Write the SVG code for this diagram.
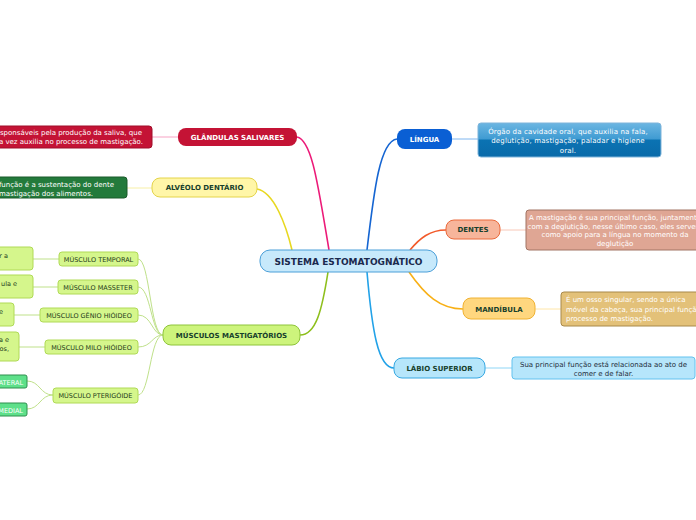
<svg xmlns="http://www.w3.org/2000/svg" width="696" height="520" viewBox="0 0 696 520">
<defs>
<linearGradient id="gLing" x1="0" y1="0" x2="0" y2="1">
<stop offset="0" stop-color="#6cb6e2"/>
<stop offset="0.47" stop-color="#3f9bd2"/>
<stop offset="0.5" stop-color="#0b73b3"/>
<stop offset="1" stop-color="#0a6aa9"/>
</linearGradient>
<style>
text{font-family:"DejaVu Sans","Liberation Sans",sans-serif;}
.lbl{font-size:7px;font-weight:bold;text-anchor:middle;fill:#17402c;}
.sub{font-size:6.5px;text-anchor:middle;fill:#1d3a1a;}
.desc{font-size:7px;fill:#ffffff;}
.dk{fill:#1e2d3a;}
.c{text-anchor:middle;}
.e{text-anchor:end;}
.main{fill:none;stroke-width:1.6;}
.thin{fill:none;stroke-width:1;}
.lime{fill:#d5f68c;stroke:#b0da56;stroke-width:1;}
</style>
</defs>
<rect width="696" height="520" fill="#ffffff"/>

<g id="connectors">
<path class="main" stroke="#ec1a78" d="M297 137 C312 140 318 185 329 250"/>
<path class="main" stroke="#e8d820" d="M257 189 C274 192 286 225 292 250"/>
<path class="main" stroke="#1565d2" d="M367 250 C374 190 380 141 397 139"/>
<path class="main" stroke="#f25a2a" d="M410 250 C420 238 430 230 446 230"/>
<path class="main" stroke="#f8b016" d="M409 272 C425 295 440 309 463 309"/>
<path class="main" stroke="#22a2e8" d="M367 272 C372 330 378 368 394 368"/>
<path class="main" stroke="#8ebf1c" d="M328 272 C322 310 316 335 300 335"/>

<path class="thin" stroke="#f7a3c4" d="M152 137 L178 137"/>
<path class="thin" stroke="#f7efa6" d="M126 188 L152 188"/>
<path class="thin" stroke="#7fb6ef" d="M452 139 L478 139"/>
<path class="thin" stroke="#f8c8b8" d="M500 230 L526 230"/>
<path class="thin" stroke="#ffe6a8" d="M535 309 L561 309"/>
<path class="thin" stroke="#8fd6f6" d="M485 368 L512 368"/>

<g stroke="#bfe18a" class="thin">
<path d="M163 335 C150 335 150 259 138 259"/>
<path d="M163 335 C151 335 151 287 138 287"/>
<path d="M163 335 C152 335 152 315 138 315"/>
<path d="M163 335 C152 335 152 347 138 347"/>
<path d="M163 335 C150 335 150 395 138 395"/>
<path d="M59 259 L33 259"/>
<path d="M58 287 L33 287"/>
<path d="M40 315 L14 315"/>
<path d="M45 347 L19 347"/>
<path d="M53 395 C40 395 40 381 27 381"/>
<path d="M53 395 C40 395 40 409 27 409"/>
</g>
</g>

<g id="central">
<rect x="260" y="250" width="177" height="22" rx="10" fill="#c7e9fb" stroke="#4b9fd8" stroke-width="1"/>
<text x="348.5" y="264.5" font-size="9" font-weight="bold" text-anchor="middle" fill="#1b2a4e">SISTEMA ESTOMATOGNÁTICO</text>
</g>

<g id="glandulas">
<rect x="178" y="128" width="119" height="18" rx="8" fill="#c41335"/>
<text class="lbl" x="237.5" y="139.5" style="fill:#ffffff">GLÂNDULAS SALIVARES</text>
</g>
<g id="glandulas-desc">
<rect x="-10" y="126" width="162" height="22" rx="3" fill="#c41335" stroke="#a00e2a"/>
<text class="desc e" x="142" y="134.5">sponsáveis pela produção da saliva, que</text>
<text class="desc e" x="143" y="143.5">a vez auxilia no processo de mastigação.</text>
</g>

<g id="alveolo">
<rect x="152" y="178" width="105" height="19" rx="8" fill="#fff6a8" stroke="#e4d44a" stroke-width="1"/>
<text class="lbl" x="204.5" y="190">ALVÉOLO DENTÁRIO</text>
</g>
<g id="alveolo-desc">
<rect x="-10" y="177" width="137" height="21" rx="3" fill="#237a3b" stroke="#1a5a2b"/>
<text class="desc e" x="114" y="186.5">função é a sustentação do dente</text>
<text class="desc e" x="93" y="195.5">mastigação dos alimentos.</text>
</g>

<g id="musculos">
<rect x="163" y="325" width="137" height="20" rx="8" fill="#cdf47c" stroke="#8ec43a" stroke-width="1"/>
<text class="lbl" x="231.5" y="337.5">MÚSCULOS MASTIGATÓRIOS</text>
</g>

<g id="temporal">
<rect class="lime" x="59" y="252" width="79" height="14" rx="3"/>
<text class="sub" x="98.5" y="261.5">MÚSCULO TEMPORAL</text>
</g>
<g id="temporal-desc">
<rect class="lime" x="-10" y="247" width="43" height="23" rx="3"/>
<text class="sub e" x="8" y="257.5">r a</text>
</g>

<g id="masseter">
<rect class="lime" x="58" y="280" width="80" height="14" rx="3"/>
<text class="sub" x="98" y="289.5">MÚSCULO MASSETER</text>
</g>
<g id="masseter-desc">
<rect class="lime" x="-10" y="275" width="43" height="23" rx="3"/>
<text class="sub e" x="17" y="285.5">ula e</text>
</g>

<g id="genio">
<rect class="lime" x="40" y="308" width="98" height="14" rx="3"/>
<text class="sub" x="89" y="317.5">MÚSCULO GÊNIO HIÓIDEO</text>
</g>
<g id="genio-desc">
<rect class="lime" x="-10" y="303" width="24" height="23" rx="3"/>
<text class="sub e" x="3" y="313.5">e</text>
</g>

<g id="milo">
<rect class="lime" x="45" y="340" width="93" height="14" rx="3"/>
<text class="sub" x="91.5" y="349.5">MÚSCULO MILO HIÓIDEO</text>
</g>
<g id="milo-desc">
<rect class="lime" x="-10" y="332" width="29" height="29" rx="3"/>
<text class="sub e" x="9" y="341.5">a e</text>
<text class="sub e" x="9" y="350.5">os,</text>
</g>

<g id="pterigoide">
<rect class="lime" x="53" y="388" width="85" height="15" rx="3"/>
<text class="sub" x="95.5" y="398">MÚSCULO PTERIGÓIDE</text>
</g>
<g id="lateral">
<rect x="-10" y="375" width="37" height="13" rx="2" fill="#5ee08a" stroke="#2f8f4f"/>
<text class="sub e" x="23" y="384.5" style="fill:#ffffff">ATERAL</text>
</g>
<g id="medial">
<rect x="-10" y="403" width="37" height="13" rx="2" fill="#5ee08a" stroke="#2f8f4f"/>
<text class="sub e" x="23" y="412.5" style="fill:#ffffff">MEDIAL</text>
</g>

<g id="lingua">
<rect x="397" y="129" width="55" height="20" rx="8" fill="#0a5fd4"/>
<text class="lbl" x="424.5" y="141.5" style="fill:#ffffff">LÍNGUA</text>
</g>
<g id="lingua-desc">
<rect x="478" y="123" width="183" height="34" rx="3" fill="url(#gLing)" stroke="#7fb4da"/>
<text class="desc c" x="568" y="133.5" letter-spacing="0.15">Órgão da cavidade oral, que auxilia na fala,</text>
<text class="desc c" x="568" y="143" letter-spacing="0.15">deglutição, mastigação, paladar e higiene</text>
<text class="desc c" x="568" y="152.5" letter-spacing="0.15">oral.</text>
</g>

<g id="dentes">
<rect x="446" y="220" width="54" height="19" rx="8" fill="#f7b59b" stroke="#ea6a3c" stroke-width="1"/>
<text class="lbl" x="473" y="232">DENTES</text>
</g>
<g id="dentes-desc">
<rect x="526" y="210" width="180" height="40" rx="3" fill="#dfa694" stroke="#a27464"/>
<text class="desc c" x="615" y="219.5">A mastigação é sua principal função, juntamente</text>
<text class="desc c" x="615" y="228.5">com a deglutição, nesse último caso, eles servem</text>
<text class="desc c" x="615" y="237">como apoio para a língua no momento da</text>
<text class="desc c" x="615" y="246">deglutição</text>
</g>

<g id="mandibula">
<rect x="463" y="298" width="72" height="21" rx="8" fill="#ffd77f" stroke="#f0b232" stroke-width="1"/>
<text class="lbl" x="499" y="311.5">MANDÍBULA</text>
</g>
<g id="mandibula-desc">
<rect x="561" y="292" width="145" height="34" rx="3" fill="#e3c179" stroke="#a8894a"/>
<text class="desc" x="566" y="302">É um osso singular, sendo a única</text>
<text class="desc" x="566" y="311.5">móvel da cabeça, sua principal função</text>
<text class="desc" x="566" y="321">processo de mastigação.</text>
</g>

<g id="labio">
<rect x="394" y="358" width="91" height="20" rx="8" fill="#b6e6fb" stroke="#36a8e2" stroke-width="1"/>
<text class="lbl" x="439.5" y="370.5">LÁBIO SUPERIOR</text>
</g>
<g id="labio-desc">
<rect x="512" y="357" width="183" height="22" rx="3" fill="#b6e6fb" stroke="#62c2ef"/>
<text class="desc dk c" x="603.5" y="366.5">Sua principal função está relacionada ao ato de</text>
<text class="desc dk c" x="603.5" y="375.5">comer e de falar.</text>
</g>
</svg>
